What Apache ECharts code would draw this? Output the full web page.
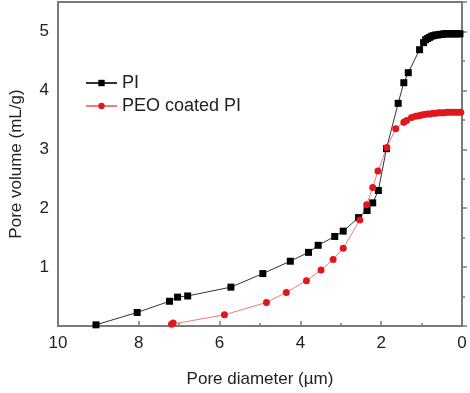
<!DOCTYPE html>
<html>
<head>
<meta charset="utf-8">
<script src="https://cdn.jsdelivr.net/npm/echarts@6/dist/echarts.min.js"></script>
<style>html,body{margin:0;padding:0;background:#fff}#c{width:470px;height:393px}</style>
</head>
<body>
<div id="c"></div>
<script>
var xTicks = [10, 8, 6, 4, 2, 0];
var yTicks = [1, 2, 3, 4, 5];
var piName = 'PI';
var peoName = 'PEO coated PI';
var piX = [9.06, 8.04, 7.24, 7.04, 6.79, 5.72, 4.93, 4.25, 3.80, 3.56, 3.15, 2.94, 2.56, 2.35, 2.21, 2.07, 1.87, 1.58, 1.44, 1.33, 1.05, 0.95, 0.90, 0.85, 0.80, 0.75, 0.70, 0.65, 0.60, 0.55, 0.50, 0.45, 0.40, 0.35, 0.30, 0.25, 0.20, 0.15, 0.10, 0.05];
var piY = [0.02, 0.23, 0.42, 0.49, 0.51, 0.66, 0.89, 1.10, 1.25, 1.37, 1.52, 1.61, 1.84, 1.96, 2.09, 2.30, 3.01, 3.78, 4.13, 4.30, 4.69, 4.81, 4.86, 4.88, 4.90, 4.92, 4.93, 4.94, 4.94, 4.95, 4.95, 4.96, 4.96, 4.96, 4.96, 4.96, 4.96, 4.96, 4.96, 4.96];
var peoX = [7.19, 7.15, 5.88, 4.84, 4.35, 3.85, 3.49, 3.19, 2.94, 2.53, 2.36, 2.21, 2.08, 1.86, 1.64, 1.44, 1.37, 1.25, 1.15, 1.07, 1.00, 0.93, 0.86, 0.79, 0.72, 0.65, 0.58, 0.51, 0.44, 0.37, 0.30, 0.23, 0.16, 0.09, 0.03];
var peoY = [0.03, 0.05, 0.19, 0.40, 0.57, 0.77, 0.95, 1.13, 1.32, 1.80, 2.06, 2.35, 2.63, 3.03, 3.35, 3.46, 3.49, 3.54, 3.56, 3.57, 3.58, 3.59, 3.60, 3.60, 3.61, 3.61, 3.62, 3.62, 3.62, 3.63, 3.63, 3.63, 3.63, 3.63, 3.63];

function pairs(xs, ys) { return xs.map(function (x, i) { return [x, ys[i]]; }); }
var FONT = 'Arial, "Liberation Sans", sans-serif';
var frame = '#7a7a7a';

var chart = echarts.init(document.getElementById('c'));
chart.setOption({
  animation: false,
  backgroundColor: '#fff',
  grid: { left: 56, right: 8, top: 2, bottom: 61, show: true, borderColor: frame, borderWidth: 2, backgroundColor: 'transparent' },
  legend: {
    orient: 'vertical', left: 80, top: 69, itemWidth: 31, itemHeight: 8, itemGap: 5,
    textStyle: { fontFamily: FONT, fontSize: 18, color: '#222' },
    data: [piName, peoName]
  },
  xAxis: {
    type: 'value', inverse: true, min: 0, max: 10, interval: 2,
    name: 'Pore diameter (\u00b5m)', nameLocation: 'middle', nameGap: 45,
    nameTextStyle: { fontFamily: FONT, fontSize: 17, color: '#222' },
    axisLine: { show: true, lineStyle: { color: frame, width: 2 } },
    axisTick: { show: true, inside: true, length: 5, lineStyle: { color: frame, width: 1.5 } },
    minorTick: { show: true, splitNumber: 2, length: 3, lineStyle: { color: frame, width: 1.5 } },
    splitLine: { show: false },
    axisLabel: { fontFamily: FONT, fontSize: 17, color: '#222', margin: 9,
      formatter: function (v) { return xTicks.indexOf(v) >= 0 ? String(v) : ''; } }
  },
  yAxis: {
    type: 'value', min: 0, max: 5.5, interval: 1,
    name: 'Pore volume (mL/g)', nameLocation: 'middle', nameGap: 33,
    nameTextStyle: { fontFamily: FONT, fontSize: 17, color: '#222' },
    axisLine: { show: true, lineStyle: { color: frame, width: 2 } },
    axisTick: { show: true, inside: true, length: 5, lineStyle: { color: frame, width: 1.5 } },
    minorTick: { show: true, splitNumber: 2, length: 3, lineStyle: { color: frame, width: 1.5 } },
    splitLine: { show: false },
    axisLabel: { fontFamily: FONT, fontSize: 17, color: '#222', margin: 9,
      formatter: function (v) { return yTicks.indexOf(v) >= 0 ? String(v) : ''; } }
  },
  series: [
    {
      name: piName, type: 'line', data: pairs(piX, piY),
      symbol: 'rect', symbolSize: 7,
      itemStyle: { color: '#000' },
      lineStyle: { color: '#333', width: 1 }
    },
    {
      name: peoName, type: 'line', data: pairs(peoX, peoY),
      symbol: 'circle', symbolSize: 7,
      itemStyle: { color: '#e3161e' },
      lineStyle: { color: '#ef7b7b', width: 1 }
    }
  ]
});
</script>
</body>
</html>
